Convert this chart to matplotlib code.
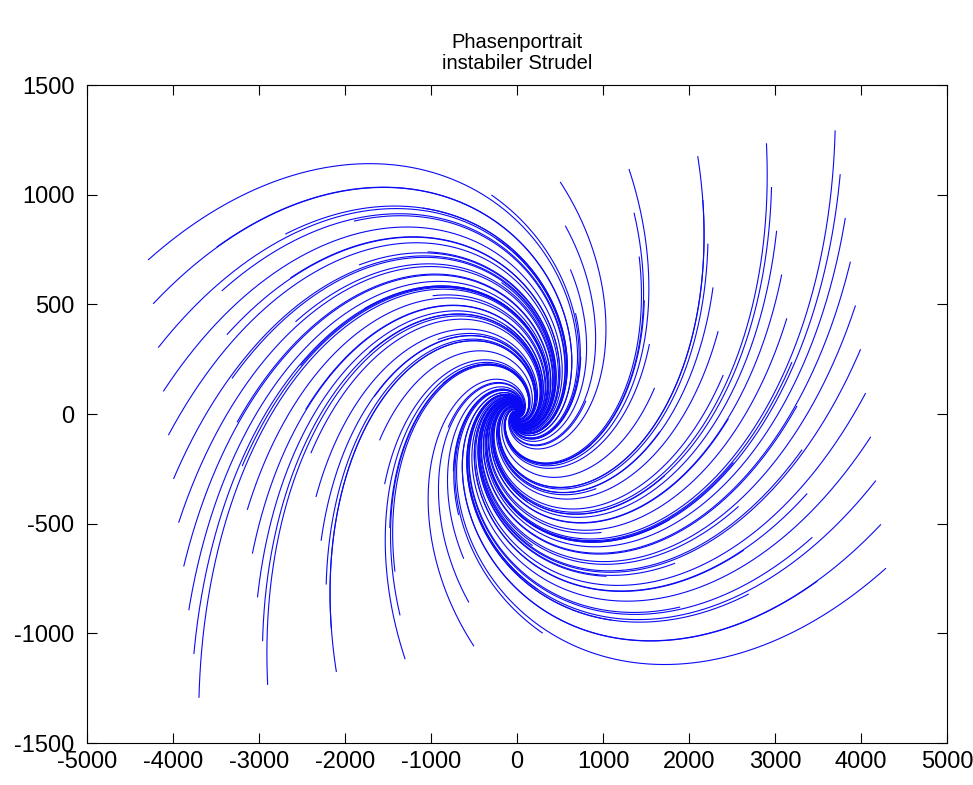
import numpy as np
import matplotlib
matplotlib.use("Agg")
import matplotlib.pyplot as plt
from matplotlib import font_manager

# ---------------- data ----------------
title_lines = ["Phasenportrait", "instabiler Strudel"]

# linear system x' = A x  (unstable focus, eigenvalues 1.5 +/- 2i)
A = [[1.5, -4.0],
     [1.0, 1.5]]
t_end = 4.0

# grid of initial conditions (11 x 11)
x_start = [-5, -4, -3, -2, -1, 0, 1, 2, 3, 4, 5]
y_start = [-5, -4, -3, -2, -1, 0, 1, 2, 3, 4, 5]

x_ticks = [-5000, -4000, -3000, -2000, -1000, 0, 1000, 2000, 3000, 4000, 5000]
y_ticks = [-1500, -1000, -500, 0, 500, 1000, 1500]
x_limits = [-5000, 5000]
y_limits = [-1500, 1500]

# ---------------- solution x(t) = exp(A t) x0 ----------------
Am = np.array(A, dtype=float)
sigma = np.trace(Am) / 2.0
omega = np.sqrt(np.linalg.det(Am) - sigma ** 2)
K = (Am - sigma * np.eye(2)) / omega
t = np.linspace(0.0, t_end, 2000)

def trajectory(x0):
    x0 = np.asarray(x0, dtype=float)
    Kx = K @ x0
    c = np.cos(omega * t)[:, None]
    s = np.sin(omega * t)[:, None]
    return np.exp(sigma * t)[:, None] * (c * x0[None, :] + s * Kx[None, :])

# ---------------- figure ----------------
names = {f.name for f in font_manager.fontManager.ttflist}
if "Liberation Sans Narrow" in names:
    tick_family = ["Liberation Sans Narrow", "Liberation Sans", "DejaVu Sans"]
    tick_size = 19
else:
    tick_family = ["Liberation Sans", "DejaVu Sans"]
    tick_size = 17
plt.rcParams["font.family"] = ["Liberation Sans", "DejaVu Sans"]
plt.rcParams["axes.unicode_minus"] = False

fig = plt.figure(figsize=(9.73, 7.85), dpi=100)
ax = fig.add_axes([0.0894, 0.0535, 0.884, 0.838])

for x0 in x_start:
    for y0 in y_start:
        tr = trajectory([x0, y0])
        ax.plot(tr[:, 0], tr[:, 1], color="#0a0af5", lw=0.8)

ax.set_xlim(x_limits)
ax.set_ylim(y_limits)
ax.set_xticks(x_ticks)
ax.set_yticks(y_ticks)
ax.tick_params(direction="in", length=7, width=0.8, top=True, right=True,
               pad=6)
ax.tick_params(axis="y", pad=9)
for lab in ax.get_xticklabels() + ax.get_yticklabels():
    lab.set_family(tick_family)
    lab.set_fontsize(tick_size)
for sp in ax.spines.values():
    sp.set_linewidth(0.8)
ax.set_title("\n".join(title_lines), fontsize=14.5, pad=12, linespacing=1.1)

fig.savefig("out.png", dpi=100)
